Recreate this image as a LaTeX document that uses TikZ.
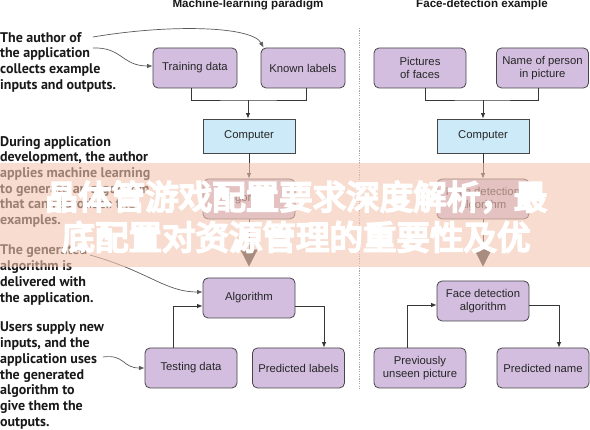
\documentclass[tikz,border=0pt]{standalone}
\usepackage{fontspec}
\usetikzlibrary{arrows.meta}
\newfontfamily\annfont{PT Sans}
\newfontfamily\boxfont{Liberation Sans}
\newfontfamily\cjkfont[FakeBold=6]{Noto Sans CJK SC}
\definecolor{boxfill}{RGB}{211,190,224}
\definecolor{compfill}{RGB}{204,234,248}
\definecolor{boxline}{RGB}{70,70,70}
\definecolor{arrline}{RGB}{55,55,55}
\definecolor{annline}{RGB}{90,90,90}
\definecolor{bannerc}{RGB}{242,197,175}
\definecolor{anntext}{RGB}{25,25,25}
\begin{document}
\begin{tikzpicture}[x=1pt,y=-1pt,
 pbox/.style={draw=boxline, line width=0.8pt, fill=boxfill, rounded corners=5pt, minimum width=92pt, minimum height=40pt, inner sep=0pt, align=center, font=\boxfont\fontsize{11.3}{13}\selectfont, text=black!85},
 cbox/.style={pbox, fill=compfill, rounded corners=0pt, minimum height=34pt},
 arr/.style={draw=arrline, line width=0.8pt, -{Latex[length=5.5pt,width=4.5pt]}},
 link/.style={draw=arrline, line width=0.8pt},
 bigarr/.style={draw=arrline, line width=0.8pt, -{Triangle[length=17pt,width=17pt]}},
 ann/.style={draw=annline, line width=0.7pt, -{Latex[length=5.5pt,width=4.5pt]}},
 anntxt/.style={anchor=north west, inner sep=0pt, align=left, font=\annfont\bfseries\fontsize{14}{15.7}\selectfont, text=anntext},
 titletxt/.style={font=\boxfont\bfseries\fontsize{11.6}{13}\selectfont, text=black!90},
 bannertxt/.style={font=\cjkfont\fontsize{33.5}{40}\selectfont, text=white}
]
\useasboundingbox (0,0) rectangle (590,430);
\fill[white] (0,0) rectangle (590,430);

% titles
\node[titletxt] (t1) at (248,5) {Machine-learning paradigm};
\node[titletxt] (t2) at (482,5) {Face-detection example};

% left column
\node[pbox, minimum width=84pt] (trd) at (195,68) {Training data};
\node[pbox, minimum width=84pt] (kl) at (303,68) {Known labels};
\node[cbox] (cmp1) at (249,136) {Computer};
\node[pbox] (gh1) at (249,199) {Algorithm};
\node[pbox] (alg) at (249,298) {Algorithm};
\node[pbox] (tst) at (191,368) {Testing data};
\node[pbox] (pl) at (298.5,368) {Predicted labels};

% right column
\node[pbox] (pf) at (420,68) {Pictures\\of faces};
\node[pbox] (np) at (542.5,68) {Name of person\\in picture};
\node[cbox] (cmp2) at (483,136) {Computer};
\node[pbox] (gh2) at (483,199) {Face detection\\algorithm};
\node[pbox] (fda) at (483,301) {Face detection\\algorithm};
\node[pbox] (pu) at (420,368) {Previously\\unseen picture};
\node[pbox] (pn) at (543,368) {Predicted name};

% brackets
\coordinate (j1) at (248,100);
\coordinate (j2) at (483,100);
\draw[link] ([xshift=-4pt]trd.south) |- (j1) -| ([xshift=3pt]kl.south);
\draw[arr] (j1) -- (j1 |- cmp1.north);
\draw[link] ([xshift=5pt]pf.south) |- (j2) -| ([xshift=-4.5pt]np.south);
\draw[arr] (j2) -- (j2 |- cmp2.north);

% vertical flow
\draw[arr] (cmp1) -- (gh1);
\draw[arr] (cmp2) -- (gh2);
\draw[bigarr, shorten >=11pt] (gh1) -- (alg);
\draw[bigarr, shorten >=14pt] (gh2) -- (fda);

% lower arrows
\draw[arr] (tst.north -| 173,0) |- (alg.west |- 0,306);
\draw[arr] (alg.east |- 0,306) -| (pl.north -| 324,0);
\draw[arr] (pu.north -| 407,0) |- (fda.west |- 0,305);
\draw[arr] (fda.east |- 0,305) -| (pn.north -| 559,0);

% divider
\draw[gray!70, line width=0.8pt, dash pattern=on 1.2pt off 1.2pt] (359,28) -- (359,390);

% annotations
\node[anntxt] (a1) at (0,32) {The author of\\the application\\collects example\\inputs and outputs.};
\node[anntxt] (a2) at (0,136) {During application\\development, the author\\applies machine learning\\to generate an algorithm\\that can reproduce the\\examples.};
\node[anntxt] (a3) at (0,245) {The generated\\algorithm is\\delivered with\\the application.};
\node[anntxt] (a4) at (0,322) {Users supply new\\inputs, and the\\application uses\\the generated\\algorithm to\\give them the\\outputs.};

\coordinate (s1) at (93,37);
\coordinate (s2) at (93,48);
\coordinate (s3) at (90,255);
\coordinate (s4) at (103,357);
\draw[ann] (s1) .. controls (170,24) and (252,26) .. ([xshift=3pt]kl.north west);
\draw[ann] (s2) .. controls (122,47) and (122,66) .. (trd.west |- 0,66);
\draw[ann] (s3) .. controls (150,272) and (165,292) .. (alg.west |- 0,292);
\draw[ann] (s4) .. controls (125,354) and (122,368) .. (tst.west);

% banner
\fill[bannerc, opacity=0.6] (0,163) rectangle (590,267);
\node[bannertxt] (bn1) at (296,197) {晶体管游戏配置要求深度解析，最};
\node[bannertxt] (bn2) at (296,237) {底配置对资源管理的重要性及优};
\end{tikzpicture}
\end{document}
